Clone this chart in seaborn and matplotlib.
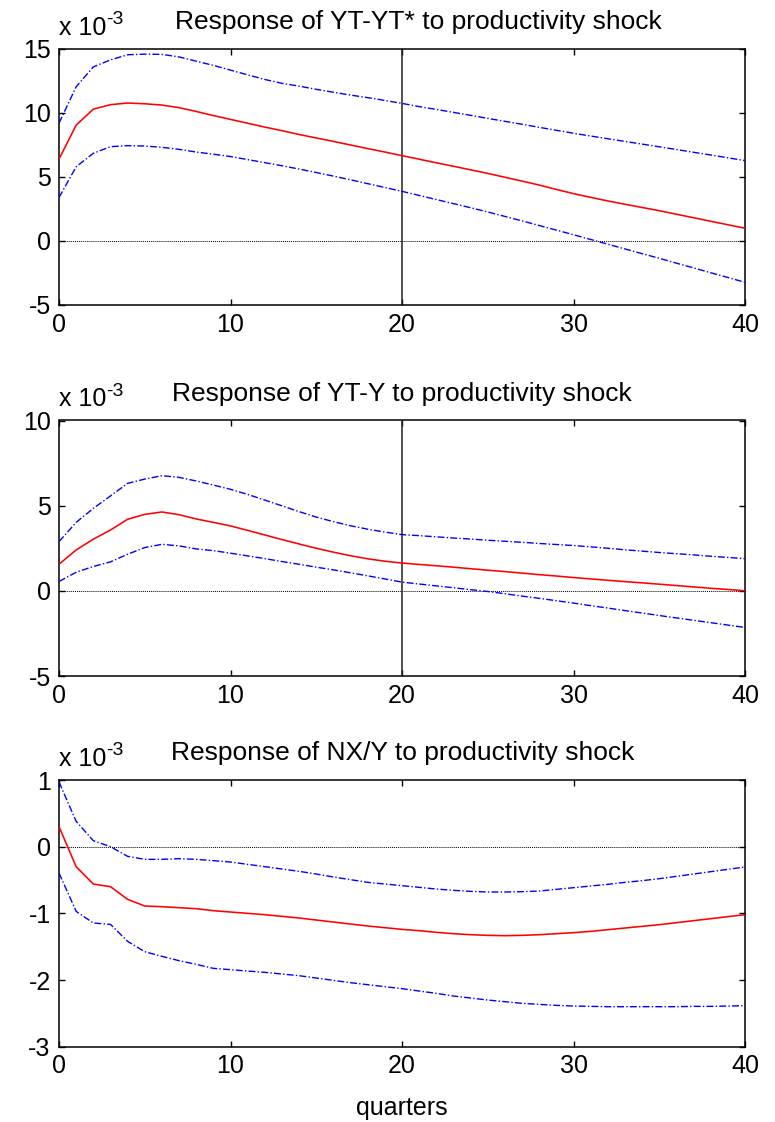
import matplotlib
matplotlib.use("Agg")
import matplotlib.pyplot as plt
import pandas as pd
import seaborn as sns

# Impulse responses (in units of 10^-3) over a 40-quarter horizon,
# with lower / upper confidence bands.
quarters = list(range(41))

yt_rel_lower = [3.40, 5.80, 6.85, 7.37, 7.45, 7.42, 7.32, 7.16, 6.95, 6.78,
                6.60, 6.36, 6.12, 5.88, 5.62, 5.35, 5.07, 4.78, 4.48, 4.18,
                3.88, 3.56, 3.24, 2.92, 2.60, 2.27, 1.92, 1.57, 1.21, 0.85,
                0.49, 0.12, -0.25, -0.62, -0.99, -1.35, -1.73, -2.10, -2.48, -2.85,
                -3.23]
yt_rel_mid = [6.40, 9.05, 10.30, 10.65, 10.78, 10.72, 10.62, 10.42, 10.12, 9.80,
              9.50, 9.20, 8.90, 8.62, 8.32, 8.05, 7.78, 7.50, 7.22, 6.95,
              6.67, 6.39, 6.11, 5.84, 5.56, 5.28, 4.98, 4.68, 4.37, 4.03,
              3.70, 3.41, 3.13, 2.87, 2.62, 2.37, 2.09, 1.82, 1.54, 1.27,
              1.00]
yt_rel_upper = [9.20, 12.05, 13.60, 14.15, 14.55, 14.60, 14.58, 14.38, 14.05, 13.72,
                13.35, 12.98, 12.62, 12.32, 12.10, 11.85, 11.62, 11.40, 11.20, 10.98,
                10.75, 10.50, 10.28, 10.05, 9.82, 9.58, 9.35, 9.12, 8.88, 8.65,
                8.42, 8.20, 7.99, 7.78, 7.57, 7.36, 7.15, 6.93, 6.72, 6.50,
                6.28]

yt_y_lower = [0.55, 1.09, 1.43, 1.70, 2.15, 2.54, 2.73, 2.64, 2.46, 2.36,
              2.21, 2.05, 1.89, 1.72, 1.56, 1.39, 1.23, 1.06, 0.88, 0.70,
              0.51, 0.40, 0.29, 0.18, 0.07, -0.04, -0.17, -0.31, -0.44, -0.58,
              -0.72, -0.87, -1.01, -1.16, -1.30, -1.45, -1.59, -1.73, -1.87, -2.01,
              -2.15]
yt_y_mid = [1.56, 2.40, 3.03, 3.57, 4.20, 4.49, 4.63, 4.47, 4.22, 4.02,
            3.81, 3.55, 3.28, 3.01, 2.75, 2.50, 2.27, 2.06, 1.88, 1.74,
            1.63, 1.55, 1.47, 1.39, 1.30, 1.21, 1.13, 1.04, 0.95, 0.87,
            0.78, 0.70, 0.62, 0.54, 0.47, 0.39, 0.31, 0.23, 0.15, 0.08,
            0.00]
yt_y_upper = [2.89, 4.02, 4.84, 5.57, 6.31, 6.56, 6.76, 6.66, 6.45, 6.21,
              5.96, 5.66, 5.33, 4.99, 4.65, 4.33, 4.06, 3.82, 3.62, 3.45,
              3.30, 3.24, 3.17, 3.10, 3.04, 2.97, 2.91, 2.85, 2.78, 2.72,
              2.66, 2.58, 2.50, 2.41, 2.33, 2.25, 2.18, 2.11, 2.03, 1.96,
              1.89]

nx_lower = [-0.395, -0.970, -1.145, -1.165, -1.420, -1.575, -1.645, -1.710, -1.765, -1.825,
            -1.845, -1.865, -1.885, -1.910, -1.935, -1.970, -2.005, -2.040, -2.070, -2.100,
            -2.130, -2.165, -2.200, -2.240, -2.270, -2.300, -2.325, -2.350, -2.365, -2.380,
            -2.390, -2.395, -2.400, -2.400, -2.400, -2.400, -2.400, -2.395, -2.395, -2.390,
            -2.385]
nx_mid = [0.30, -0.30, -0.56, -0.60, -0.79, -0.89, -0.90, -0.915, -0.93, -0.96,
          -0.98, -1.00, -1.02, -1.045, -1.07, -1.10, -1.13, -1.16, -1.19, -1.215,
          -1.24, -1.26, -1.285, -1.305, -1.32, -1.33, -1.335, -1.33, -1.32, -1.305,
          -1.29, -1.27, -1.245, -1.22, -1.195, -1.17, -1.14, -1.11, -1.08, -1.05,
          -1.02]
nx_upper = [0.97, 0.38, 0.09, 0.00, -0.145, -0.19, -0.19, -0.18, -0.19, -0.21,
            -0.23, -0.265, -0.30, -0.335, -0.37, -0.41, -0.455, -0.495, -0.535, -0.56,
            -0.585, -0.61, -0.635, -0.655, -0.67, -0.68, -0.68, -0.675, -0.665, -0.64,
            -0.615, -0.59, -0.565, -0.535, -0.51, -0.48, -0.445, -0.41, -0.375, -0.34,
            -0.305]

titles = ["Response of YT-YT* to productivity shock",
          "Response of YT-Y to productivity shock",
          "Response of NX/Y to productivity shock"]
y_limits = [(-5, 15), (-5, 10), (-3, 1)]
y_ticks = [[-5, 0, 5, 10, 15], [-5, 0, 5, 10], [-3, -2, -1, 0, 1]]
x_ticks = [0, 10, 20, 30, 40]
marker_quarter = [20, 20, None]

sns.set_theme(style="ticks")
plt.rcParams.update({
    "font.family": ["Liberation Sans", "DejaVu Sans"],
    "font.size": 18,
    "text.color": "black",
    "axes.labelcolor": "black",
    "axes.unicode_minus": False,
    "axes.linewidth": 1.1,
    "axes.edgecolor": "black",
    "xtick.direction": "in",
    "ytick.direction": "in",
    "xtick.top": True,
    "ytick.right": True,
    "xtick.major.size": 4.5,
    "ytick.major.size": 4.5,
    "xtick.major.width": 1.0,
    "ytick.major.width": 1.0,
    "xtick.color": "black",
    "ytick.color": "black",
    "xtick.labelsize": 18,
    "ytick.labelsize": 18,
})

fig = plt.figure(figsize=(7.75, 11.22), dpi=100)

W, H = 775.0, 1122.0
# (top, bottom) pixel rows of each panel
rows = [(49, 305), (420.5, 676), (780, 1046.7)]
left_px, right_px = 59, 745
title_centers = [418, 402, 403]

band_series = [(yt_rel_lower, yt_rel_mid, yt_rel_upper),
               (yt_y_lower, yt_y_mid, yt_y_upper),
               (nx_lower, nx_mid, nx_upper)]

palette = {"lower": "#0000ff", "mid": "#ff0000", "upper": "#0000ff"}
dashes = {"lower": (5, 1.6, 1, 1.6), "mid": "", "upper": (5, 1.6, 1, 1.6)}

for i, (top, bot) in enumerate(rows):
    rect = [left_px / W, 1 - bot / H, (right_px - left_px) / W, (bot - top) / H]
    ax = fig.add_axes(rect)
    lo, mid, up = band_series[i]
    df = pd.concat([
        pd.DataFrame({"quarter": quarters, "value": lo, "band": "lower"}),
        pd.DataFrame({"quarter": quarters, "value": mid, "band": "mid"}),
        pd.DataFrame({"quarter": quarters, "value": up, "band": "upper"}),
    ], ignore_index=True)

    ax.axhline(0, color="black", lw=0.7, ls=(0, (1, 1)), zorder=1)
    if marker_quarter[i] is not None:
        ax.axvline(marker_quarter[i], color="#222222", lw=1.1, zorder=1)

    sns.lineplot(data=df, x="quarter", y="value", hue="band", style="band",
                 palette=palette, dashes=dashes, estimator=None,
                 linewidth=1.0, legend=False, ax=ax, zorder=3)
    for line in ax.get_lines():
        if line.get_color() == "#ff0000":
            line.set_linewidth(1.15)

    ax.set_xlim(0, 40)
    ax.set_ylim(*y_limits[i])
    ax.set_xticks(x_ticks)
    ax.set_yticks(y_ticks[i])
    ax.tick_params(axis="x", pad=5.5)
    ax.tick_params(axis="y", pad=6)
    ax.set_xlabel("")
    ax.set_ylabel("")
    for sp in ax.spines.values():
        sp.set_visible(True)
        sp.set_color("black")

    h = bot - top
    ax.text((title_centers[i] - left_px) / (right_px - left_px), 1 + 20 / h,
            titles[i], transform=ax.transAxes, ha="center", va="baseline",
            fontsize=19)
    base = ax.text(0, 1 + 14 / h, "x 10", transform=ax.transAxes,
                   ha="left", va="baseline", fontsize=18)
    ax.annotate("-3", xy=(1.0, 1 + 25 / h), xycoords=(base, ax.transAxes),
                ha="left", va="baseline", fontsize=14)

    if i == 2:
        ax.set_xlabel("quarters", fontsize=18, labelpad=13)

fig.savefig("out.png", dpi=100)
